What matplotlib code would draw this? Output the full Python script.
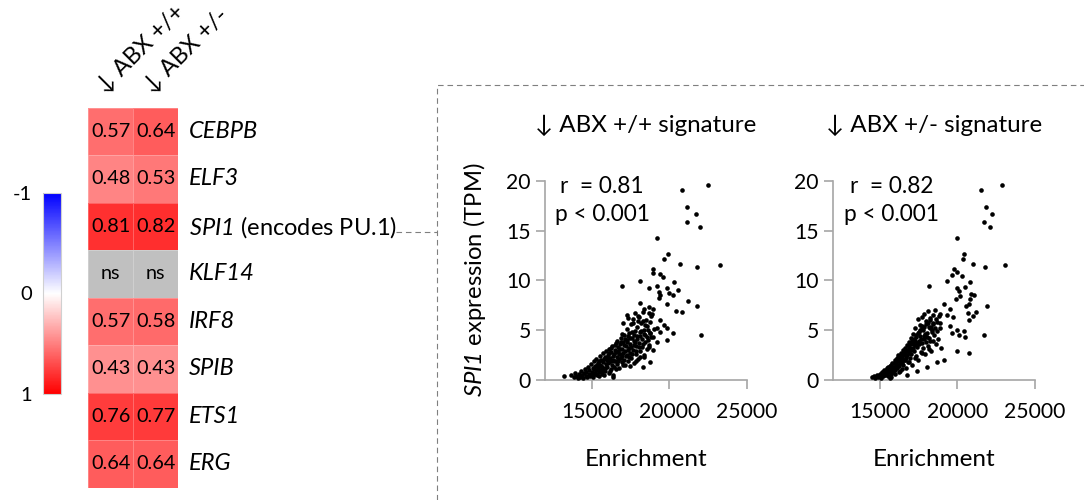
import numpy as np
import matplotlib
matplotlib.use("Agg")
import matplotlib.pyplot as plt
from matplotlib.colors import LinearSegmentedColormap, Normalize
from matplotlib.colorbar import ColorbarBase
from matplotlib.lines import Line2D

plt.rcParams['font.family'] = ['Lato', 'DejaVu Sans']
plt.rcParams['mathtext.fontset'] = 'custom'
# italic for both letters and digits inside $...$ (gene symbols)
plt.rcParams['mathtext.rm'] = 'Lato:italic'
plt.rcParams['mathtext.it'] = 'Lato:italic'

# ---------------- data ----------------
genes = ["CEBPB", "ELF3", "SPI1", "KLF14", "IRF8", "SPIB", "ETS1", "ERG"]
signatures = ["\u2193 ABX +/+", "\u2193 ABX +/-"]
corr_pp = [0.57, 0.48, 0.81, np.nan, 0.57, 0.43, 0.76, 0.64]
corr_pm = [0.64, 0.53, 0.82, np.nan, 0.58, 0.43, 0.77, 0.64]
cbar_ticks = [-1, 0, 1]
cbar_ticklabels = ["-1", "0", "1"]

scatter_titles = ["\u2193 ABX +/+ signature", "\u2193 ABX +/- signature"]
stats_r = ["r  = 0.81", "r  = 0.82"]
stats_p = ["p < 0.001", "p < 0.001"]
x_ticks = [15000, 20000, 25000]
y_ticks = [0, 5, 10, 15, 20]

# enrichment vs SPI1 TPM, ABX +/+ signature
enrich_pp = [
    13180, 20820, 22490, 21150, 21750, 21150, 21990, 19200, 19940, 19680,
    20720, 21800, 23270, 16930, 18120, 18980, 18940, 19370, 19570, 20280,
    20540, 18720, 19200, 19850, 19310, 19420, 19960, 20220, 21190, 21800,
    22015, 20820, 20460, 19830, 19310, 18080, 18380, 18980, 18660, 18810,
    17790, 18010, 17250, 17360, 17040, 17690, 18330, 19420, 19630, 19850,
    20220, 19200, 19420, 18770, 18980, 19850, 19200, 18660, 18120, 18770,
    18290, 16390, 15090,
    13650, 13820, 13900, 14000, 14080, 14150, 14230, 14300, 14350, 14420,
    14480, 14540, 14600, 14650, 14700, 14760, 14800,
    14850, 14900, 14950, 15000, 15050, 15100, 15120, 15180, 15220, 15260,
    15300, 15340, 15380, 15420, 15450, 15500, 15520, 15560, 15600, 15640,
    15680, 15700, 15740, 15780, 15820, 15860, 15900, 15940, 15970, 16000,
    16040, 16080, 16100, 16140, 16180, 16210, 16250, 16290, 16320, 16350,
    16400, 16420, 16460, 16500, 16530, 16560, 16600, 16640, 16680, 16710,
    16750, 16780, 16820, 16850, 16880, 16920, 16950, 16980,
    17020, 17060, 17100, 17130, 17170, 17200, 17240, 17270, 17300, 17340,
    17380, 17420, 17450, 17490, 17530, 17560, 17600, 17640, 17680, 17710,
    17750, 17790, 17820, 17860, 17900, 17940, 17980,
    18020, 18060, 18100, 18140, 18180, 18220, 18260, 18300, 18340, 18380,
    18420, 18460, 18500, 18540, 18580, 18620, 18680, 18720, 18760, 18820,
    18880, 18940, 19000,
    15030, 15150, 15270, 15330, 15470, 15590, 15660, 15760, 15880, 15990,
    16060, 16120, 16230, 16270, 16370, 16440, 16480, 16570, 16620, 16700,
    16730, 16800, 16870, 16900, 16970, 17040, 17080, 17150, 17190, 17260,
    17320, 17360, 17410, 17470, 17510, 17580, 17620, 17700, 17730, 17810,
    17880, 17920, 17960, 18040, 18120, 18200, 18280, 18360, 18440, 18560,
    18650, 18740, 16150, 15800, 15450, 16550, 17000, 17480, 17850, 18400,
]
tpm_pp = [
    0.4, 19.1, 19.6, 17.4, 16.7, 15.9, 15.4, 14.2, 12.6, 12.1,
    11.6, 11.3, 11.5, 9.4, 9.9, 11.1, 10.7, 10.6, 10.3, 9.8,
    9.0, 9.2, 9.4, 9.2, 8.8, 8.5, 8.7, 8.5, 7.9, 7.4,
    4.5, 6.8, 6.9, 7.6, 8.2, 7.7, 7.1, 7.1, 6.7, 6.4,
    6.7, 6.4, 6.5, 6.2, 5.7, 5.7, 5.9, 6.0, 5.5, 5.2,
    4.7, 5.2, 4.8, 4.7, 4.3, 4.0, 3.8, 3.3, 2.3, 1.8,
    1.3, 0.3, 0.5,
    0.5, 0.3, 0.7, 0.4, 0.2, 0.6, 0.3, 0.9, 0.5, 0.2,
    0.7, 1.1, 0.4, 0.8, 0.3, 1.3, 0.6,
    1.0, 0.4, 1.6, 0.8, 1.2, 0.3, 1.9, 0.7, 1.4, 1.0,
    2.1, 0.5, 1.7, 1.2, 0.8, 2.4, 1.5, 1.0, 2.0, 0.6,
    1.3, 2.7, 1.8, 1.1, 2.3, 0.9, 1.6, 2.9, 2.0, 1.3,
    2.5, 0.7, 3.1, 1.8, 2.2, 1.1, 2.8, 1.5, 3.4, 2.0,
    0.5, 2.6, 1.3, 3.0, 1.9, 3.7, 2.3, 1.6, 2.9, 3.3,
    2.1, 1.2, 3.6, 2.6, 4.2, 1.8, 3.1, 2.4,
    3.8, 2.0, 4.5, 2.9, 1.5, 3.4, 5.1, 2.5, 4.0, 1.9,
    3.2, 4.7, 2.7, 3.6, 5.6, 2.2, 4.2, 3.0, 6.1, 1.7,
    3.9, 4.9, 2.6, 3.4, 5.3, 4.4, 2.1,
    3.7, 6.3, 4.8, 2.9, 5.7, 3.3, 4.1, 6.8, 2.5, 5.0,
    3.8, 4.5, 6.0, 3.1, 5.4, 4.0, 7.3, 3.5, 5.8, 4.3,
    6.6, 3.0, 5.1,
    0.5, 1.1, 0.6, 1.5, 1.9, 1.4, 0.9, 2.1, 1.2, 2.2,
    1.7, 2.7, 1.9, 3.2, 2.4, 1.9, 3.5, 2.8, 3.9, 1.9,
    2.6, 3.1, 2.2, 3.8, 4.6, 2.7, 3.5, 4.1, 2.4, 3.8,
    3.0, 4.4, 2.3, 4.2, 3.3, 4.8, 2.6, 3.5, 4.5, 3.8,
    2.9, 4.1, 5.9, 3.3, 4.4, 4.9, 3.6, 4.6, 5.5, 4.3,
    5.0, 4.7, 0.9, 0.5, 0.4, 1.1, 1.5, 1.4, 1.9, 2.3,
]

# enrichment vs SPI1 TPM, ABX +/- signature
enrich_pm = [
    14630, 21500, 22860, 21840, 22210, 21710, 22100, 20000, 20410, 20350,
    21020, 21780, 23080, 18160, 19330, 19810, 19980, 19660, 20280, 20850,
    20890, 21060, 20520, 19980, 20090, 20200, 19940, 20850, 20780, 20590,
    21930, 21710, 21190, 20720, 19110, 19550, 19330, 19720, 18900, 18250,
    18460, 17710, 18250, 18900, 19550, 19980, 20460, 20740, 21020, 20090,
    19660, 20520, 19980, 20740, 19110, 18680, 18030, 17380, 16730, 15650,
    14500, 14700, 14800, 14900, 15000, 15080, 15150, 15220, 15300, 15360,
    15420, 15480, 15540, 15600, 15650, 15700,
    15750, 15800, 15850, 15900, 15950, 16000, 16040, 16080, 16120, 16160,
    16200, 16240, 16280, 16320, 16360, 16400, 16440, 16480, 16520, 16560,
    16600, 16640, 16680,
    16720, 16760, 16800, 16840, 16880, 16920, 16960, 17000, 17040, 17080,
    17120, 17160, 17200, 17240, 17280, 17320, 17360, 17400, 17440, 17480,
    17520, 17560, 17600, 17640, 17680,
    17720, 17760, 17800, 17840, 17880, 17920, 17960, 18000, 18040, 18080,
    18120, 18160, 18200, 18240, 18300, 18340, 18400, 18460, 18520, 18580,
    18640, 18700, 18760, 18820, 18900, 18960,
    15020, 15120, 15250, 15380, 15460, 15560, 15630, 15720, 15820, 15920,
    15980, 16060, 16140, 16220, 16300, 16340, 16420, 16500, 16540, 16620,
    16660, 16740, 16780, 16860, 16900, 16980, 17020, 17100, 17140, 17220,
    17260, 17340, 17380, 17460, 17500, 17580, 17620, 17700, 17740, 17820,
    17860, 17940, 17990, 18060, 18140, 18220, 18280, 18360, 18440, 18540,
    18620, 18720, 16000, 16450, 16900, 17300, 17750, 18200, 15700, 16250,
]
tpm_pm = [
    0.4, 19.1, 19.6, 17.4, 16.7, 15.9, 15.4, 14.2, 12.6, 12.1,
    11.6, 11.3, 11.5, 9.4, 9.9, 11.1, 10.8, 10.5, 10.4, 9.8,
    8.6, 8.5, 9.3, 9.2, 8.9, 8.4, 8.1, 8.1, 7.6, 7.4,
    7.4, 4.5, 6.8, 6.7, 7.6, 7.1, 6.5, 6.3, 6.6, 6.2,
    5.7, 5.2, 5.2, 5.7, 5.4, 5.0, 4.9, 6.0, 6.4, 4.5,
    4.7, 4.3, 2.9, 2.7, 2.0, 1.8, 1.3, 0.9, 0.5, 0.2,
    0.3, 0.2, 0.5, 0.3, 0.6, 0.2, 0.8, 0.4, 1.0, 0.5,
    0.7, 1.2, 0.4, 0.9, 1.4, 0.6,
    1.1, 1.7, 0.8, 1.3, 2.0, 1.0, 1.6, 2.2, 1.2, 1.9,
    2.5, 1.4, 2.1, 0.9, 2.7, 1.7, 2.3, 3.0, 1.5, 2.6,
    2.0, 3.2, 1.2,
    2.4, 3.5, 1.8, 2.9, 3.8, 2.2, 3.2, 4.2, 2.6, 1.5,
    3.6, 4.6, 2.9, 3.9, 5.2, 2.4, 4.3, 3.3, 6.1, 2.0,
    4.8, 3.6, 5.5, 2.8, 4.1,
    6.3, 3.2, 5.0, 4.4, 6.6, 2.6, 5.6, 3.8, 4.7, 6.9,
    3.4, 5.3, 4.2, 6.0, 2.9, 5.0, 3.9, 6.5, 4.5, 7.0,
    3.6, 5.8, 4.1, 6.4, 5.2, 3.2,
    0.4, 0.7, 0.9, 1.0, 0.6, 1.3, 0.8, 1.5, 1.2, 1.7,
    1.3, 2.0, 1.5, 2.3, 1.7, 2.5, 2.0, 2.6, 2.0, 2.8,
    2.2, 3.0, 2.5, 3.3, 2.7, 3.6, 3.0, 3.9, 3.2, 4.1,
    3.5, 4.5, 3.7, 4.7, 3.9, 4.4, 5.0, 3.7, 5.4, 4.1,
    5.3, 4.6, 5.9, 4.3, 5.7, 3.9, 5.3, 4.8, 5.6, 5.2,
    6.1, 4.9, 0.6, 1.1, 1.8, 2.2, 2.7, 3.1, 0.3, 0.8,
]

# ---------------- layout helpers (pixel -> figure fraction) ----------------
W, H = 1084, 500
def fx(px):
    return px / W
def fy(py):
    return 1 - py / H

fig = plt.figure(figsize=(W / 100, H / 100), dpi=100)

AXIS_GREY = '#A6A6A6'
cmap = LinearSegmentedColormap.from_list('bwr_pure', ['#0000FF', '#FFFFFF', '#FF0000'])
cmap.set_bad('#C0C0C0')
norm = Normalize(vmin=-1, vmax=1)

# ---------------- heatmap ----------------
hm_left, hm_right, hm_top, hm_bottom = 88.3, 178.3, 107.7, 487.7
ax_hm = fig.add_axes([fx(hm_left), fy(hm_bottom), fx(hm_right - hm_left),
                      (hm_bottom - hm_top) / H])
values = np.ma.masked_invalid(np.column_stack([corr_pp, corr_pm]))
ax_hm.set_facecolor('#C0C0C0')
ax_hm.pcolormesh(values, cmap=cmap, norm=norm, edgecolors=(1, 1, 1, 0.25),
                 linewidth=0.6)
ax_hm.set_xlim(0, 2)
ax_hm.set_ylim(len(genes), 0)
ax_hm.axis('off')

for i, gene in enumerate(genes):
    for j, col in enumerate([corr_pp, corr_pm]):
        v = col[i]
        txt = 'ns' if np.isnan(v) else f'{v:.2f}'
        ax_hm.text(j + 0.5, i + 0.5, txt, ha='center', va='center',
                   fontsize=14.3, color='black')
    if gene == "SPI1":
        label = r'$SPI1$ (encodes PU.1)'
        ax_hm.text(2.24, i + 0.52, label, ha='left', va='center', fontsize=17)
    else:
        ax_hm.text(2.24, i + 0.5, gene, ha='left', va='center', fontsize=17,
                   fontstyle='italic')

# rotated column headers
for j, sig in enumerate(signatures):
    x0 = 105.5 + j * 46.5
    fig.text(fx(x0), fy(94), sig, rotation=45, rotation_mode='anchor',
             ha='left', va='baseline', fontsize=17)

# ---------------- colour bar ----------------
cax = fig.add_axes([fx(43.3), fy(394), fx(61 - 43.3), (394 - 193) / H])
cb = ColorbarBase(cax, cmap=cmap, norm=norm, orientation='vertical')
cax.invert_yaxis()
cb.set_ticks(cbar_ticks)
cb.set_ticklabels(cbar_ticklabels)
cax.yaxis.set_ticks_position('left')
cax.tick_params(length=0, labelsize=14.5, pad=8)
cb.outline.set_edgecolor('#D0D0D0')
cb.outline.set_linewidth(0.8)

# ---------------- scatter panels ----------------
sc_bottom, sc_top = 380.0, 180.7
sc_width = 201.5
panels = [(545.3, enrich_pp, tpm_pp), (833.3, enrich_pm, tpm_pm)]
for k, (left, xs, ys) in enumerate(panels):
    ax = fig.add_axes([fx(left), fy(sc_bottom), fx(sc_width),
                       (sc_bottom - sc_top) / H])
    ax.scatter(xs, ys, s=11, color='black', linewidths=0, zorder=3)
    ax.set_xlim(12000, 25000)
    ax.set_ylim(0, 20)
    ax.set_xticks(x_ticks)
    ax.set_yticks(y_ticks)
    ax.set_xticklabels([str(t) for t in x_ticks])
    ax.set_yticklabels([str(t) for t in y_ticks])
    for side in ('top', 'right'):
        ax.spines[side].set_visible(False)
    for side in ('left', 'bottom'):
        ax.spines[side].set_color(AXIS_GREY)
        ax.spines[side].set_linewidth(1.2)
    ax.tick_params(axis='both', direction='out', length=6.5, width=1.2,
                   color=AXIS_GREY, labelsize=15.2, labelcolor='black')
    ax.tick_params(axis='x', pad=9)
    ax.tick_params(axis='y', pad=4)
    ax.patch.set_alpha(0)

    cx = left + sc_width / 2
    fig.text(fx(cx), fy(125), scatter_titles[k], ha='center', va='center',
             fontsize=17.4)
    fig.text(fx(cx), fy(459), 'Enrichment', ha='center', va='center',
             fontsize=17.5)
    ax.text(0.075 + 0.008 * k, 0.972, stats_r[k], transform=ax.transAxes,
            ha='left', va='center', fontsize=16.3)
    ax.text(0.048 + 0.005 * k, 0.828, stats_p[k], transform=ax.transAxes,
            ha='left', va='center', fontsize=16.3)

fig.text(fx(474), fy(280), r'$SPI1$ expression (TPM)', rotation=90,
         ha='center', va='center', fontsize=17.2)

# ---------------- dashed frame and connector ----------------
dash_kw = dict(color='#7F7F7F', linewidth=0.8, linestyle=(0, (5, 3.5)))
fig.add_artist(Line2D([fx(437), fx(437), fx(1084)], [fy(500), fy(85), fy(85)],
                      transform=fig.transFigure, **dash_kw))
fig.add_artist(Line2D([fx(396), fx(437)], [fy(231.7), fy(231.7)],
                      transform=fig.transFigure, **dash_kw))

fig.savefig('out.png', dpi=100)
